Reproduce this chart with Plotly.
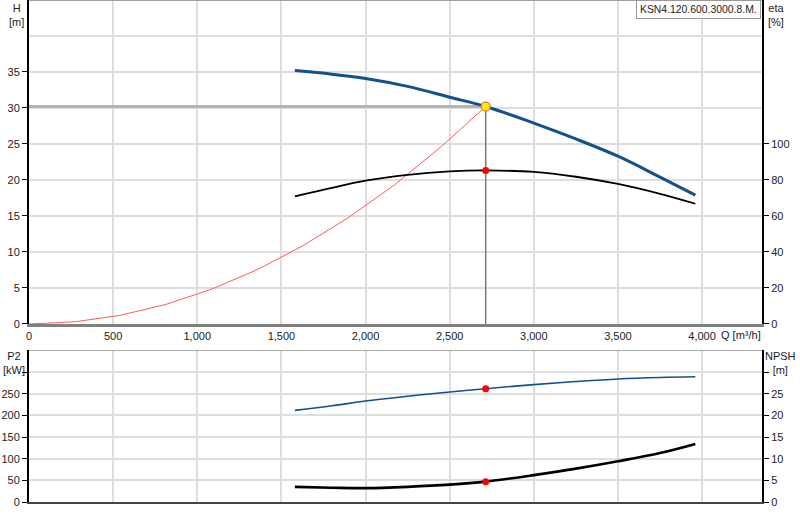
import plotly.graph_objects as go

# pump curve data
q = [1580, 1800, 2000, 2250, 2500, 2714, 3000, 3250, 3500, 3750, 3960]
head = [35.2, 34.7, 34.1, 33.0, 31.5, 30.2, 27.9, 25.7, 23.3, 20.4, 17.9]
eta = [70.9, 75.6, 79.6, 82.9, 84.8, 85.3, 84.5, 81.8, 77.8, 72.3, 66.8]
p2 = [211.5, 222, 233, 244, 254, 261.5, 271, 278, 284, 287.5, 289]
npsh = [3.5, 3.3, 3.2, 3.5, 4.0, 4.7, 6.2, 7.7, 9.4, 11.3, 13.4]

# system curve
q_sys = [0, 272, 543, 814, 1086, 1357, 1628, 1900, 2171, 2443, 2714]
h_sys = [0, 0.30, 1.21, 2.72, 4.83, 7.55, 10.87, 14.8, 19.3, 24.5, 30.2]

# duty point
q_duty = 2714
h_duty = 30.2
eta_duty = 85.3
p2_duty = 261.5
npsh_duty = 4.7

x_ticks = [0, 500, 1000, 1500, 2000, 2500, 3000, 3500, 4000]
h_ticks = [0, 5, 10, 15, 20, 25, 30, 35]
eta_ticks = [0, 20, 40, 60, 80, 100]
p2_ticks = [0, 50, 100, 150, 200, 250, 300]
npsh_ticks = [0, 5, 10, 15, 20, 25, 30]

model = "KSN4.120.600.3000.8.M."

FONT = "Liberation Sans, Arial, sans-serif"
W, H = 800, 520
ML, MR, MT, MB = 29.3, 38, 0, 17.5
PW = W - ML - MR
PH = H - MT - MB


def px_x(x):
    return (x - ML) / PW


def px_y(y):
    return (PH + MT - y) / PH


BLUE = "#12508f"
GRID = "#dedede"

fig = go.Figure()

# duty point helper lines
fig.add_trace(go.Scatter(x=[0, q_duty], y=[h_duty, h_duty], mode="lines",
                         line=dict(color="#b4b4b4", width=3), xaxis="x", yaxis="y"))
fig.add_trace(go.Scatter(x=[q_duty, q_duty], y=[0, h_duty], mode="lines",
                         line=dict(color="#7a7a7a", width=1.5), xaxis="x", yaxis="y"))

# system curve
fig.add_trace(go.Scatter(x=q_sys, y=h_sys, mode="lines",
                         line=dict(color="#ff5a5a", width=1), xaxis="x", yaxis="y"))

# efficiency
fig.add_trace(go.Scatter(x=q, y=eta, mode="lines", line_shape="spline",
                         line=dict(color="black", width=1.8), xaxis="x", yaxis="y2"))
fig.add_trace(go.Scatter(x=[q_duty], y=[eta_duty], mode="markers",
                         marker=dict(color="#ff0000", size=7), xaxis="x", yaxis="y2"))

# head
fig.add_trace(go.Scatter(x=q, y=head, mode="lines", line_shape="spline",
                         line=dict(color=BLUE, width=3), xaxis="x", yaxis="y"))
fig.add_trace(go.Scatter(x=[q_duty], y=[h_duty], mode="markers",
                         marker=dict(color="#ffee00", size=9,
                                     line=dict(color="#ff6a3a", width=1.2)),
                         xaxis="x", yaxis="y"))

# power
fig.add_trace(go.Scatter(x=q, y=p2, mode="lines", line_shape="spline",
                         line=dict(color=BLUE, width=1.6), xaxis="x2", yaxis="y3"))
fig.add_trace(go.Scatter(x=[q_duty], y=[p2_duty], mode="markers",
                         marker=dict(color="#ff0000", size=7), xaxis="x2", yaxis="y3"))

# npsh
fig.add_trace(go.Scatter(x=q, y=npsh, mode="lines", line_shape="spline",
                         line=dict(color="black", width=2.6), xaxis="x2", yaxis="y4"))
fig.add_trace(go.Scatter(x=[q_duty], y=[npsh_duty], mode="markers",
                         marker=dict(color="#ff0000", size=7), xaxis="x2", yaxis="y4"))

tickfont = dict(family=FONT, size=11, color="#222")
top_dom = [px_y(324.3), 1]
bot_dom = [0, px_y(350.7)]

common_y = dict(ticks="outside", ticklen=5, tickcolor="black", tickwidth=1,
                showline=True, linecolor="black", linewidth=2, zeroline=False,
                tickfont=tickfont, automargin=False, fixedrange=True)

fig.update_layout(
    width=W, height=H,
    margin=dict(l=ML, r=MR, t=MT, b=MB),
    template="none",
    paper_bgcolor="white", plot_bgcolor="white",
    showlegend=False,
    font=dict(family=FONT, size=11, color="#222"),
    xaxis=dict(range=[0, 4356], domain=[0, 1], anchor="y",
               tickvals=x_ticks, tickformat=",d", ticks="",
               showline=True, linecolor="#808080", linewidth=3,
               showgrid=True, gridcolor=GRID, gridwidth=1.5, zeroline=False,
               tickfont=tickfont, automargin=False),
    xaxis2=dict(range=[0, 4356], domain=[0, 1], anchor="y3", matches="x",
                tickvals=x_ticks, showticklabels=False, ticks="",
                showline=True, linecolor="#444", linewidth=1.5,
                showgrid=True, gridcolor=GRID, gridwidth=1.5, zeroline=False,
                automargin=False),
    yaxis=dict(range=[0, 45], domain=top_dom, anchor="x", tickvals=h_ticks,
               showgrid=True, gridcolor=GRID, gridwidth=2, **common_y),
    yaxis2=dict(range=[0, 180], overlaying="y", side="right", anchor="x",
                tickvals=eta_ticks, showgrid=False, **common_y),
    yaxis3=dict(range=[0, 350], domain=bot_dom, anchor="x2", tickvals=p2_ticks,
                ticktext=[str(v) for v in p2_ticks[:-1]] + [""],
                showgrid=True, gridcolor=GRID, gridwidth=2, **common_y),
    yaxis4=dict(range=[0, 35], overlaying="y3", side="right", anchor="x2",
                tickvals=npsh_ticks,
                ticktext=[str(v) for v in npsh_ticks[:-1]] + [""],
                showgrid=False, **common_y),
)

# extra grid line at 40 m and frames on top of both panels
fig.add_shape(type="line", xref="paper", yref="y", x0=0, x1=1, y0=40, y1=40,
              line=dict(color=GRID, width=2), layer="below")
fig.add_shape(type="line", xref="paper", yref="paper", x0=0, x1=1, y0=1, y1=1,
              line=dict(color="#a0a0a0", width=2))
fig.add_shape(type="line", xref="paper", yref="y3", x0=0, x1=1, y0=350, y1=350,
              line=dict(color="#909090", width=1.5))

labels = [
    ("H<br>[m]", 16.5, 0),
    ("eta<br>[%]", 776, 0),
    ("P2<br>[kW]", 14, 348),
    ("NPSH<br>[m]", 780, 348),
]
for text, x, y in labels:
    fig.add_annotation(text=text, xref="paper", yref="paper", x=px_x(x), y=px_y(y),
                       xanchor="center", yanchor="top", showarrow=False,
                       font=dict(family=FONT, size=11, color="#222"))

fig.add_annotation(text="Q [m³/h]", xref="paper", yref="paper",
                   x=px_x(719), y=px_y(335), xanchor="left", yanchor="middle",
                   showarrow=False, font=dict(family=FONT, size=11, color="#222"))

fig.add_annotation(text=model, xref="paper", yref="paper", x=px_x(761), y=1,
                   xanchor="right", yanchor="top", showarrow=False,
                   bgcolor="white", bordercolor="#999", borderwidth=1, borderpad=3,
                   font=dict(family=FONT, size=10.4, color="#222"))

# the page has a default body margin; drop it so the chart sits at the corner
fig.write_html("out.html", config={"displayModeBar": False},
               post_script="document.body.style.margin='0';")
